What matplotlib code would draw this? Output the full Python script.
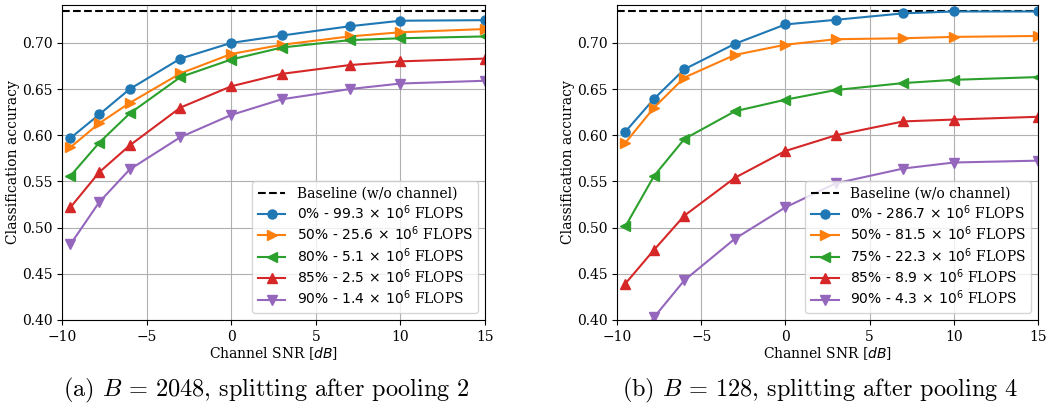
import matplotlib
matplotlib.use("Agg")
import matplotlib.pyplot as plt

snr = [-9.5, -7.8, -6, -3, 0, 3, 7, 10, 15]
baseline = 0.735

# (a) B = 2048, split after pooling 2
labels_a = [r"$0\%\text{ - }99.3\,\times\,10^6$ FLOPS",
            r"$50\%\text{ - }25.6\,\times\,10^6$ FLOPS",
            r"$80\%\text{ - }5.1\,\times\,10^6$ FLOPS",
            r"$85\%\text{ - }2.5\,\times\,10^6$ FLOPS",
            r"$90\%\text{ - }1.4\,\times\,10^6$ FLOPS"]
acc_a_0 = [0.597, 0.6225, 0.650, 0.683, 0.700, 0.708, 0.718, 0.724, 0.7246]
acc_a_50 = [0.587, 0.613, 0.635, 0.667, 0.688, 0.698, 0.707, 0.7115, 0.715]
acc_a_80 = [0.556, 0.592, 0.6236, 0.663, 0.682, 0.695, 0.703, 0.705, 0.707]
acc_a_85 = [0.522, 0.560, 0.589, 0.630, 0.653, 0.6665, 0.676, 0.680, 0.683]
acc_a_90 = [0.482, 0.5276, 0.563, 0.598, 0.622, 0.639, 0.650, 0.656, 0.659]

# (b) B = 128, split after pooling 4
labels_b = [r"$0\%\text{ - }286.7\,\times\,10^6$ FLOPS",
            r"$50\%\text{ - }81.5\,\times\,10^6$ FLOPS",
            r"$75\%\text{ - }22.3\,\times\,10^6$ FLOPS",
            r"$85\%\text{ - }8.9\,\times\,10^6$ FLOPS",
            r"$90\%\text{ - }4.3\,\times\,10^6$ FLOPS"]
acc_b_0 = [0.604, 0.6395, 0.6715, 0.699, 0.720, 0.725, 0.732, 0.734, 0.734]
acc_b_50 = [0.592, 0.630, 0.6625, 0.687, 0.698, 0.704, 0.705, 0.7065, 0.7075]
acc_b_75 = [0.5015, 0.556, 0.596, 0.626, 0.6385, 0.649, 0.6565, 0.660, 0.663]
acc_b_85 = [0.4395, 0.476, 0.513, 0.554, 0.583, 0.600, 0.615, 0.617, 0.620]
acc_b_90 = [0.36, 0.403, 0.443, 0.488, 0.522, 0.548, 0.564, 0.5705, 0.5725]

captions = [r"(a) $B\,=\,2048$, splitting after pooling 2",
            r"(b) $B\,=\,128$, splitting after pooling 4"]

markers = ["o", ">", "<", "^", "v"]
colors = ["tab:blue", "tab:orange", "tab:green", "tab:red", "tab:purple"]

plt.rcParams["font.family"] = "DejaVu Serif"

fig = plt.figure(figsize=(10.46, 4.08), dpi=100)
ax_a = fig.add_axes([0.0593, 0.2157, 0.4044, 0.772])
ax_b = fig.add_axes([0.5899, 0.2157, 0.4025, 0.772])

panels = [(ax_a, labels_a, [acc_a_0, acc_a_50, acc_a_80, acc_a_85, acc_a_90]),
          (ax_b, labels_b, [acc_b_0, acc_b_50, acc_b_75, acc_b_85, acc_b_90])]

for i, (ax, labels, series) in enumerate(panels):
    ax.plot([-10, 15], [baseline, baseline], "k--", lw=1.5,
            label="Baseline (w/o channel)")
    for vals, lab, m, c in zip(series, labels, markers, colors):
        ax.plot(snr, vals, marker=m, color=c, lw=1.5, ms=6.5, label=lab)
    ax.set_xlim(-10, 15)
    ax.set_ylim(0.40, 0.741)
    ax.grid(True)
    ax.set_axisbelow(True)
    ax.tick_params(labelsize=10)
    ax.set_xlabel(r"Channel SNR [$dB$]", fontsize=10, labelpad=1)
    ax.set_ylabel("Classification accuracy", fontsize=10, labelpad=1)
    ax.legend(loc="lower right", fontsize=10, framealpha=0.8,
              labelspacing=0.2)
    pos = ax.get_position()
    fig.text(pos.x0 + pos.width / 2 - 0.007, 0.028, captions[i],
             ha="center", va="baseline", fontsize=17.5,
             family="cmr10", math_fontfamily="cm")

fig.savefig("out.png", dpi=100)
